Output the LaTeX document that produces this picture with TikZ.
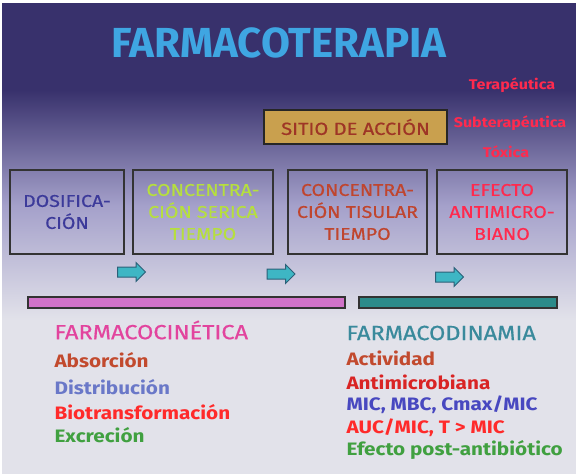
\documentclass[tikz,border=0pt]{standalone}
\usepackage{fontspec}
\setmainfont{Fira Sans}
\newfontfamily\comic{Fira Sans}[FakeStretch=1.15]
\newfontfamily\comicmed{Fira Sans}[FakeStretch=1.15,FakeBold=0.6]
\usetikzlibrary{shapes.arrows}

\definecolor{bgtop}{HTML}{38316C}
\definecolor{bgmid}{HTML}{A4A0CA}
\definecolor{bglow}{HTML}{E2E2EA}
\definecolor{titleblue}{HTML}{3FA6E2}
\definecolor{sitefill}{HTML}{C9A04E}
\definecolor{sitetext}{HTML}{9E3526}
\definecolor{hotred}{HTML}{FF2A4E}
\definecolor{dosblue}{HTML}{3C3A9A}
\definecolor{serlime}{HTML}{B6DF3E}
\definecolor{tisbrown}{HTML}{C0452E}
\definecolor{arrfill}{HTML}{3EB6C4}
\definecolor{arrline}{HTML}{2B6078}
\definecolor{kinpink}{HTML}{D173C9}
\definecolor{dyntealbar}{HTML}{2C8B8A}
\definecolor{kinhead}{HTML}{E2449E}
\definecolor{dynhead}{HTML}{3A8A9C}
\definecolor{absbrown}{HTML}{C24A2E}
\definecolor{distblue}{HTML}{6A78C8}
\definecolor{biored}{HTML}{FF2A2A}
\definecolor{excgreen}{HTML}{40A040}
\definecolor{micblue}{HTML}{4848C0}

\begin{document}
\begin{tikzpicture}[
  x=1pt,y=-1pt,
  stage/.style={draw=black!80,line width=1.6pt,minimum height=84pt,
    align=center,inner sep=2pt,font=\comicmed\fontsize{17}{22}\selectfont},
  site/.style={draw=black!85,line width=1.6pt,fill=sitefill,
    minimum width=183pt,minimum height=34pt,text=sitetext,
    font=\comicmed\fontsize{17.5}{20}\selectfont},
  level/.style={text=hotred,font=\comic\bfseries\fontsize{14}{16}\selectfont},
  fatarrow/.style={single arrow,draw=arrline,fill=arrfill,line width=1pt,
    minimum height=28pt,inner sep=4.5pt,single arrow head extend=4.5pt},
  bar/.style={draw=black!80,line width=1.3pt,minimum height=11pt},
  head/.style={anchor=west,font=\comicmed\fontsize{20.5}{24}\selectfont},
  item/.style={anchor=west,font=\comic\bfseries\fontsize{18}{21}\selectfont}
]
% background
\useasboundingbox (0,0) rectangle (576,474);
\fill[white] (0,0) rectangle (576,474);
\fill[bgtop] (2,3) rectangle (576,90);
\shade[top color=bgtop,bottom color=bgmid] (2,90) rectangle (576,205);
\shade[top color=bgmid,bottom color=bglow] (2,205) rectangle (576,320);
\fill[bglow] (2,320) rectangle (576,474);

\node[text=titleblue,font=\bfseries\fontsize{42}{44}\selectfont] (title) at (279,43) {FARMACOTERAPIA};

% sitio de accion
\node[site] (sitio) at (355.5,127) {SITIO DE ACCIÓN};
\node[level] (terap) at (512,85) {Terapéutica};
\node[level] (subterap) at (510,123) {Subterapéutica};
\node[level] (toxica) at (506,152) {Tóxica};

% stages
\node[stage,minimum width=114pt,text=dosblue] (dosis) at (67,212) {DOSIFICA-\\CIÓN};
\node[stage,minimum width=140pt,text=serlime] (serica) at (203,212) {CONCENTRA-\\CIÓN SERICA\\TIEMPO};
\node[stage,minimum width=139pt,text=tisbrown] (tisular) at (357.5,212) {CONCENTRA-\\CIÓN TISULAR\\TIEMPO};
\node[stage,minimum width=130pt,text=hotred] (efecto) at (502,212) {EFECTO\\ANTIMICRO-\\BIANO};

\node[fatarrow] (arrA) at (129,272) {};
\node[fatarrow] (arrB) at (278.5,274) {};
\node[fatarrow] (arrC) at (447,277) {};

% bars
\node[bar,fill=kinpink,minimum width=317pt] (kinbar) at (186.5,302.5) {};
\node[bar,fill=dyntealbar,minimum width=198pt] (dynbar) at (458,302.5) {};

% farmacocinetica
\node[head,text=kinhead] (kin) at (51,330) {FARMACOCINÉTICA};
\node[item,text=absbrown] (absorcion) at (51,360) {Absorción};
\node[item,text=distblue] (distrib) at (51,387) {Distribución};
\node[item,text=biored] (biotrans) at (51,412) {Biotransformación};
\node[item,text=excgreen] (excrecion) at (51,435) {Excreción};

% farmacodinamia
\node[head,text=dynhead] (dyn) at (343,333) {FARMACODINAMIA};
\node[item,text=absbrown] (activ) at (343,358) {Actividad};
\node[item,text=biored!85!black] (antimic) at (343,382) {Antimicrobiana};
\node[item,text=micblue] (mic) at (343,405) {MIC, MBC, Cmax/MIC};
\node[item,text=biored] (auc) at (343,428) {AUC/MIC, T > MIC};
\node[item,text=excgreen] (postab) at (343,450) {Efecto post-antibiótico};
\end{tikzpicture}
\end{document}
